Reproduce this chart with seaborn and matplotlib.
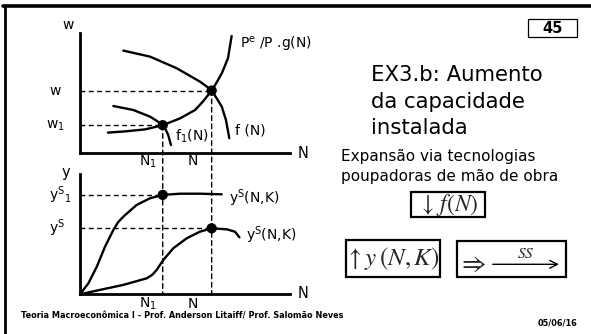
import matplotlib
matplotlib.use("Agg")
import matplotlib.pyplot as plt
from matplotlib.patches import Rectangle, ConnectionPatch
from matplotlib.lines import Line2D
import seaborn as sns
import pandas as pd

# ---------------- data (diagram units) ----------------
# top panel: labour market (N, w)
g_N = [1.33, 2.14, 3.10, 3.94, 4.76, 5.48, 5.86, 6.27, 6.52, 6.76, 7.05, 7.22]
g_w = [1.02, 1.08, 1.18, 1.39, 1.73, 2.15, 2.58, 3.12, 3.55, 4.00, 4.75, 5.85]
f_N = [2.06, 3.33, 4.60, 5.71, 6.00, 6.27, 6.50, 6.75, 6.95, 7.11]
f_w = [5.12, 4.82, 4.24, 3.57, 3.35, 3.12, 2.75, 2.32, 1.65, 0.74]
f1_N = [1.59, 2.54, 3.33, 3.64, 3.94, 4.09, 4.20, 4.33]
f1_w = [2.35, 2.15, 1.82, 1.62, 1.39, 1.15, 0.90, 0.40]
eq_N = [3.94, 6.27]      # N1, N
eq_w = [1.39, 3.12]      # w1, w

# bottom panel: production function (N, y)
ysup_N = [0.00, 0.40, 0.80, 1.19, 1.59, 1.81, 2.06, 2.70, 3.33, 3.94, 4.76, 5.71, 6.75]
ysup_y = [0.00, 0.55, 1.38, 2.38, 3.22, 3.60, 3.88, 4.47, 4.80, 4.97, 5.03, 5.03, 5.00]
yslo_N = [0.00, 0.95, 2.06, 3.18, 3.45, 3.65, 3.97, 4.44, 5.08, 5.71, 6.27, 6.99, 7.38, 7.59]
yslo_y = [0.00, 0.22, 0.47, 0.80, 0.98, 1.22, 1.72, 2.30, 2.80, 3.13, 3.30, 3.25, 3.13, 2.85]
eq_y = [4.97, 3.30]      # ys1 (at N1), ys (at N)

title_lines = ["EX3.b: Aumento", "da capacidade", "instalada"]
subtitle_lines = ["Expansão via tecnologias", "poupadoras de mão de obra"]
footer_left = "Teoria Macroeconômica I - Prof. Anderson Litaiff/ Prof. Salomão Neves"
footer_right = "05/06/16"
slide_number = "45"

# ---------------- figure ----------------
sns.set_theme(style="white")
plt.rcParams["font.family"] = ["DejaVu Sans"]

W, H = 591, 334
fig = plt.figure(figsize=(W / 100, H / 100), dpi=100)
fig.patch.set_facecolor("white")

def rect(x0, y0, x1, y1):
    return [x0 / W, 1 - y1 / H, (x1 - x0) / W, (y1 - y0) / H]

bg = fig.add_axes([0, 0, 1, 1])
bg.set_xlim(0, W)
bg.set_ylim(H, 0)
bg.axis("off")

ax_t = fig.add_axes(rect(80, 33, 290, 153))
ax_b = fig.add_axes(rect(80, 174.3, 290, 294.3))
for ax in (ax_t, ax_b):
    ax.set_xlim(0, 10)
    ax.set_ylim(0, 6)
    ax.set_facecolor("none")
    sns.despine(ax=ax)
    for s in ("left", "bottom"):
        ax.spines[s].set_linewidth(2.0)
        ax.spines[s].set_color("black")
    ax.set_xticks([])
    ax.set_yticks([])
    ax.patch.set_alpha(0)

lw_curve = 1.7
dash = dict(color="black", lw=1.0, linestyle=(0, (3.5, 2.5)))

# dashed guides
for n, w in zip(eq_N, eq_w):
    ax_t.plot([0, n], [w, w], **dash, clip_on=False)
for n, y in zip(eq_N, eq_y):
    ax_b.plot([0, n], [y, y], **dash, clip_on=False)
for n, w in zip(eq_N, eq_w):
    cp = ConnectionPatch(xyA=(n, w), coordsA=ax_t.transData,
                         xyB=(n, 0), coordsB=ax_b.transData,
                         color="black", lw=1.0, linestyle=(0, (3.5, 2.5)))
    fig.add_artist(cp)

# curves
def curve(ax, xs, ys):
    df = pd.DataFrame({"x": xs, "y": ys})
    sns.lineplot(data=df, x="x", y="y", ax=ax, color="black", lw=lw_curve,
                 sort=False, estimator=None, clip_on=False)

curve(ax_t, g_N, g_w)
curve(ax_t, f_N, f_w)
curve(ax_t, f1_N, f1_w)
curve(ax_b, ysup_N, ysup_y)
curve(ax_b, yslo_N, yslo_y)

sns.scatterplot(x=eq_N, y=eq_w, ax=ax_t, color="black", s=55, edgecolor="none", zorder=5, clip_on=False)
sns.scatterplot(x=eq_N, y=eq_y, ax=ax_b, color="black", s=55, edgecolor="none", zorder=5, clip_on=False)
for ax in (ax_t, ax_b):
    ax.set_xlabel("")
    ax.set_ylabel("")

# ---------------- text labels (pixel coords) ----------------
fs = 10
def t(x, y, s, **kw):
    kw.setdefault("fontsize", fs)
    kw.setdefault("va", "center")
    kw.setdefault("ha", "left")
    bg.text(x, y, s, color="black", **kw)

t(68, 25, "w", ha="center")
t(303, 153, "N", ha="center", fontsize=10.5)
t(55, 90.7, "w", ha="center")
t(55, 125.3, "w$_1$", ha="center")
t(148, 162, "N$_1$", ha="center")
t(193, 161, "N", ha="center")
t(240, 44, "P$^{\\mathregular{e}}$ /P .g(N)")
t(235, 130, "f (N)")
t(175, 136.5, "f$_1$(N)")

t(66, 172, "y", ha="center", fontsize=10.5)
t(303, 294, "N", ha="center", fontsize=10.5)
t(60, 195, "y$^{\\mathregular{S}}$$_1$", ha="center")
t(57, 228, "y$^{\\mathregular{S}}$", ha="center")
t(148, 303.5, "N$_1$", ha="center")
t(193, 303.5, "N", ha="center")
t(229, 198.5, "y$^{\\mathregular{S}}$(N,K)")
t(246, 235, "y$^{\\mathregular{S}}$(N,K)")

# title block
for i, line in enumerate(title_lines):
    t(371, 75 + i * 26.5, line, fontsize=15.3)
for i, line in enumerate(subtitle_lines):
    t(341, 157 + i * 20, line, fontsize=11)

# slide number box
bg.add_patch(Rectangle((527.7, 19), 49, 18.3, fill=False, lw=0.9, ec="black"))
t(552.2, 28.5, slide_number, ha="center", fontsize=10.5, fontweight="bold")

# math boxes
bg.add_patch(Rectangle((410.7, 192.3), 74.3, 25, fill=False, lw=1.6, ec="black"))
bg.text(448.5, 204.5, r"$\downarrow\,f(N)$", ha="center", va="center", fontsize=17,
        math_fontfamily="stix")
bg.add_patch(Rectangle((346, 240), 94, 36.7, fill=False, lw=1.6, ec="black"))
bg.text(392.5, 258, r"$\uparrow y\,(N,K)$", ha="center", va="center", fontsize=18,
        math_fontfamily="stix")
bg.add_patch(Rectangle((456.7, 241), 109, 36.3, fill=False, lw=1.6, ec="black"))
bg.text(472.5, 263.5, r"$\Rightarrow$", ha="center", va="center", fontsize=19,
        math_fontfamily="stix")
bg.annotate("", xy=(559, 264.3), xytext=(492.7, 264.3),
            arrowprops=dict(arrowstyle="->", lw=1.0, color="black",
                            mutation_scale=14, shrinkA=0, shrinkB=0))
bg.text(525.5, 253, r"$SS$", ha="center", va="center", fontsize=11,
        math_fontfamily="stix")

# footer
t(21, 316, footer_left, fontsize=5.85, fontweight="bold")
t(577, 323.5, footer_right, ha="right", fontsize=5.85, fontweight="bold")

# slide frame (top and left rules)
fig.add_artist(Line2D([3 / W, 1], [1 - 5.5 / H, 1 - 5.5 / H], color="black", lw=2.6))
fig.add_artist(Line2D([5 / W, 5 / W], [0, 1 - 5.5 / H], color="black", lw=2.0))

fig.savefig("out.png", dpi=100, facecolor="white")
